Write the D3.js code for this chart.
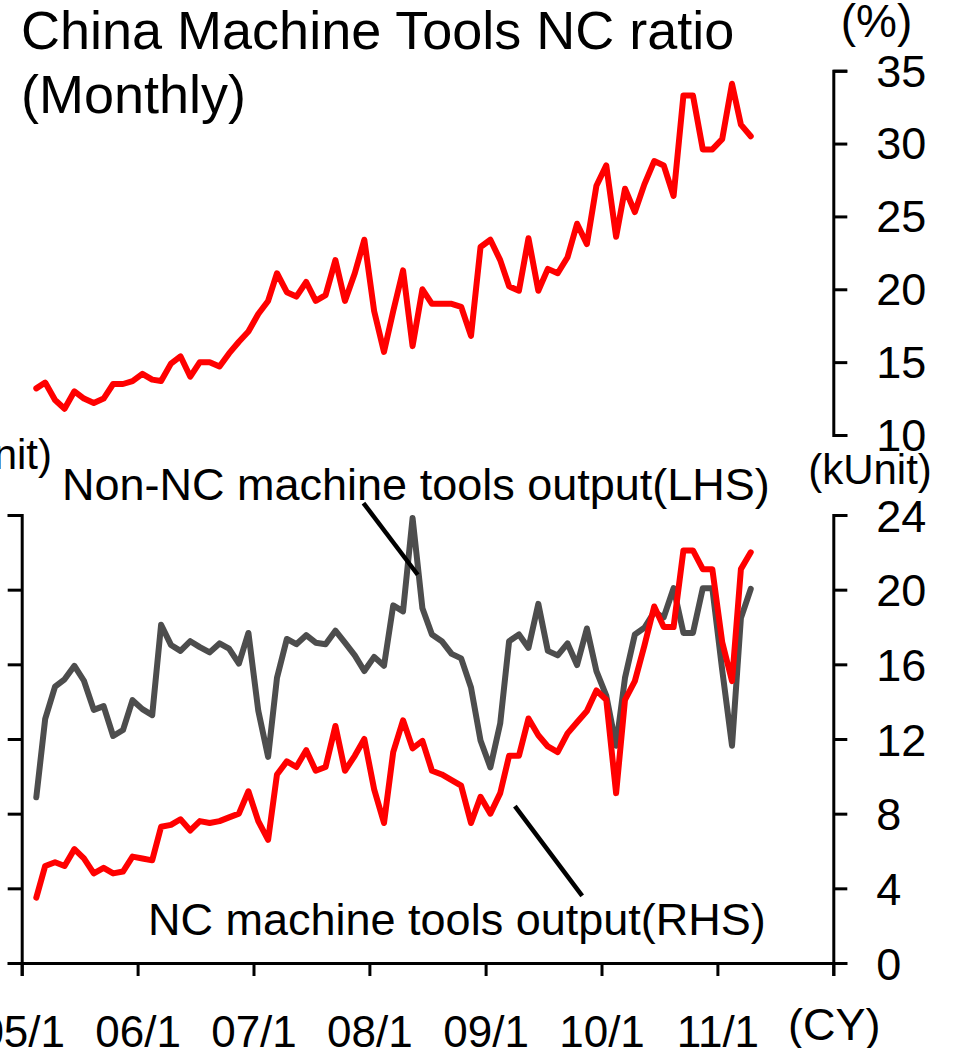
<!DOCTYPE html>
<html>
<head>
<meta charset="utf-8">
<script src="https://cdnjs.cloudflare.com/ajax/libs/d3/7.8.5/d3.min.js"></script>
<style>
  body { margin: 0; background: #fff; }
  svg text { font-family: "Liberation Sans", Arial, sans-serif; fill: #000; }
</style>
</head>
<body>
<svg id="chart" width="953" height="1048"></svg>
<script>
// monthly points, Feb 2005 .. Apr 2011
const months = d3.timeMonth.range(new Date(2005, 1, 1), new Date(2011, 4, 1));
const yearTicks = [2005, 2006, 2007, 2008, 2009, 2010, 2011, 2012];
const yearLabels = ["05/1", "06/1", "07/1", "08/1", "09/1", "10/1", "11/1", ""];
const ratioTicks = [10, 15, 20, 25, 30, 35];
const rhsTicks = [0, 4, 8, 12, 16, 20, 24];
const lhsTicks = [0, 10, 20, 30, 40, 50, 60];

// NC ratio (%)
const ncRatio = [
  13.2, 13.6, 12.4, 11.8, 13.0, 12.5, 12.2, 12.5, 13.5, 13.5,
  13.7, 14.2, 13.8, 13.7, 14.9, 15.4, 14.0, 15.0, 15.0, 14.7,
  15.6, 16.4, 17.1, 18.3, 19.2, 21.1, 19.8, 19.5, 20.5, 19.2,
  19.6, 22.0, 19.2, 21.1, 23.4, 18.5, 15.7, 18.5, 21.3, 16.1,
  20.0, 19.0, 19.0, 19.0, 18.8, 16.8, 22.9, 23.4, 22.0, 20.2,
  19.9, 23.5, 19.9, 21.4, 21.1, 22.2, 24.5, 23.1, 27.1, 28.5,
  23.6, 26.9, 25.3, 27.2, 28.8, 28.5, 26.4, 33.3, 33.3, 29.6,
  29.6, 30.3, 34.1, 31.3, 30.5
];
// Non-NC machine tools output, kUnit (LHS)
const nonNcOutput = [
  22.2, 32.7, 37.0, 38.0, 39.8, 37.8, 33.9, 34.4, 30.4, 31.2,
  35.2, 34.0, 33.2, 45.3, 42.6, 41.8, 43.1, 42.3, 41.6, 42.8,
  42.1, 40.1, 44.2, 33.8, 27.6, 38.2, 43.4, 42.7, 43.9, 42.9,
  42.7, 44.5, 42.9, 41.2, 39.1, 41.0, 39.8, 47.9, 47.1, 59.6,
  47.5, 44.0, 43.1, 41.4, 40.8, 36.9, 29.8, 26.2, 32.1, 43.1,
  44.0, 42.2, 48.1, 41.8, 41.2, 42.8, 39.9, 44.8, 39.1, 35.8,
  29.1, 38.2, 44.0, 44.9, 47.0, 46.3, 50.2, 44.2, 44.2, 50.2,
  50.2, 39.3, 29.1, 46.2, 50.1
];
// NC machine tools output, kUnit (RHS)
const ncOutput = [
  3.5, 5.2, 5.4, 5.2, 6.1, 5.6, 4.8, 5.1, 4.8, 4.9,
  5.7, 5.6, 5.5, 7.3, 7.4, 7.7, 7.1, 7.6, 7.5, 7.6,
  7.8, 8.0, 9.2, 7.6, 6.6, 10.1, 10.8, 10.5, 11.4, 10.3,
  10.5, 12.7, 10.3, 11.1, 12.0, 9.3, 7.5, 11.3, 13.0, 11.5,
  11.9, 10.3, 10.1, 9.8, 9.5, 7.5, 8.9, 8.0, 9.1, 11.1,
  11.1, 13.1, 12.2, 11.6, 11.3, 12.3, 12.9, 13.5, 14.6, 14.1,
  9.1, 14.1, 15.1, 17.0, 19.1, 18.0, 18.0, 22.1, 22.1, 21.1,
  21.1, 17.2, 15.1, 21.1, 22.0
];

const svg = d3.select("#chart");

const x = d3.scaleTime()
  .domain([new Date(2005, 0, 1), new Date(2012, 0, 1)])
  .range([21.7, 833.3]);
const xMid = d => x(d3.timeDay.offset(d, 15));
// fractional month index -> x, used for the leader lines
const xAt = i => x(d3.timeMonth.offset(new Date(2005, 1, 1), Math.floor(i))) + (i % 1) * 9.66 + 14.6;

const yRatio = d3.scaleLinear().domain([10, 35]).range([435, 70.7]);
const yRhs = d3.scaleLinear().domain([0, 24]).range([963, 515]);
const yLhs = d3.scaleLinear().domain([0, 60]).range([963, 515]);

function styleAxis(g, size) {
  g.selectAll(".domain, .tick line").attr("stroke", "#000").attr("stroke-width", 3);
  g.selectAll("text").attr("font-size", size).attr("fill", "#000")
    .attr("font-family", "'Liberation Sans', Arial, sans-serif");
}

// top panel: NC ratio
svg.append("g")
  .attr("transform", "translate(833.3,0)")
  .call(d3.axisRight(yRatio).tickValues(ratioTicks).tickSize(14).tickPadding(29))
  .call(g => styleAxis(g, 45))
  .call(g => g.selectAll("text").attr("dy", "0.34em"));

svg.append("path")
  .datum(ncRatio)
  .attr("fill", "none")
  .attr("stroke", "#ff0000")
  .attr("stroke-width", 6)
  .attr("stroke-linejoin", "round")
  .attr("stroke-linecap", "round")
  .attr("d", d3.line().x((d, i) => xMid(months[i])).y(d => yRatio(d)));

// bottom panel axes (left tick labels lie outside the picture, as in the source)
svg.append("g")
  .attr("transform", "translate(21.7,0)")
  .call(d3.axisLeft(yLhs).tickValues(lhsTicks).tickSize(14).tickFormat(""))
  .call(g => styleAxis(g, 45));

svg.append("g")
  .attr("transform", "translate(833.3,0)")
  .call(d3.axisRight(yRhs).tickValues(rhsTicks).tickSize(14).tickPadding(29))
  .call(g => styleAxis(g, 45))
  .call(g => g.selectAll("text").attr("dy", "0.36em"));

svg.append("g")
  .attr("transform", "translate(0,963)")
  .call(d3.axisBottom(x)
    .tickValues(yearTicks.map(y => new Date(y, 0, 1)))
    .tickFormat((d, i) => yearLabels[i])
    .tickSize(13).tickPadding(40))
  .call(g => styleAxis(g, 44));

// series
svg.append("path")
  .datum(nonNcOutput)
  .attr("fill", "none")
  .attr("stroke", "#4d4d4d")
  .attr("stroke-width", 6)
  .attr("stroke-linejoin", "round")
  .attr("stroke-linecap", "round")
  .attr("d", d3.line().x((d, i) => xMid(months[i])).y(d => yLhs(d)));

svg.append("path")
  .datum(ncOutput)
  .attr("fill", "none")
  .attr("stroke", "#ff0000")
  .attr("stroke-width", 6)
  .attr("stroke-linejoin", "round")
  .attr("stroke-linecap", "round")
  .attr("d", d3.line().x((d, i) => xMid(months[i])).y(d => yRhs(d)));

// leader lines
svg.append("line")
  .attr("x1", xAt(32.9)).attr("y1", yLhs(61.6))
  .attr("x2", xAt(38.5)).attr("y2", yLhs(52.0))
  .attr("stroke", "#000").attr("stroke-width", 4.5);
svg.append("line")
  .attr("x1", xAt(48.5)).attr("y1", yRhs(8.4))
  .attr("x2", xAt(55.5)).attr("y2", yRhs(3.6))
  .attr("stroke", "#000").attr("stroke-width", 4.5);

// texts
const txt = (s, xx, yy, size, anchor) => svg.append("text")
  .attr("x", xx).attr("y", yy)
  .attr("font-size", size)
  .attr("text-anchor", anchor || "start")
  .text(s);

txt("China Machine Tools NC ratio", 21, 49, 54);
txt("(Monthly)", 21, 113, 54);
txt("(%)", 876.5, 37, 46, "middle");
txt("(kUnit)", 870, 484, 42, "middle");
txt("(kUnit)", 52, 469, 42, "end");
txt("Non-NC machine tools output(LHS)", 62, 500, 45);
txt("NC machine tools output(RHS)", 148, 935, 45);
txt("(CY)", 788, 1040, 45);
</script>
</body>
</html>
